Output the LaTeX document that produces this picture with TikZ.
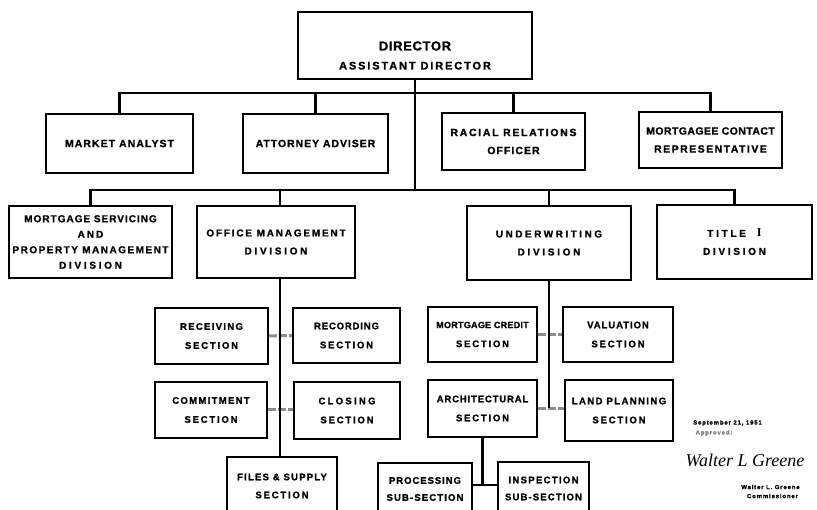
\documentclass[tikz,border=0pt]{standalone}
\usepackage{fontspec}
\setmainfont{Liberation Sans}[BoldFeatures={FakeBold=1.2}]
\newfontfamily\sigfont{Liberation Serif}
\usetikzlibrary{shadows}
\newcommand{\myls}[1]{\addfontfeature{LetterSpace=#1}}
\pgfdeclarelayer{back}
\pgfdeclarelayer{bg}
\pgfsetlayers{back,bg,main}
\tikzset{
  box/.style={draw, fill=white, line width=1.8pt, align=center, inner sep=0pt,
    drop shadow={shadow xshift=1.3pt, shadow yshift=-1.3pt, opacity=1, fill=black}},
  toprow/.style={box, font=\bfseries\fontsize{10.5}{18}\selectfont\myls{10}},
  divrow/.style={box, font=\bfseries\fontsize{10}{18}\selectfont\myls{22}},
  secbox/.style={box, font=\bfseries\fontsize{9.5}{19}\selectfont\myls{12}},
  conn/.style={line width=2.3pt},
  link/.style={line width=3pt, black!45, dash pattern=on 8pt off 2pt},
  smalltxt/.style={font=\bfseries\fontsize{6}{7}\selectfont\myls{14}, inner sep=0pt},
}
\begin{document}
\begin{tikzpicture}[x=1pt, y=-1pt]
\useasboundingbox (0,0) rectangle (817,510);
\begin{pgfonlayer}{back}
\fill[white] (0,0) rectangle (817,510);
\end{pgfonlayer}

% Director
\node[box, minimum width=234pt, minimum height=67pt] (dir) at (415,45.5) {};
\node[font=\bfseries\fontsize{11}{19}\selectfont, align=center, inner sep=0pt] (dirT) at (415,55.5)
  {{\fontsize{13}{19}\selectfont\myls{5}DIRECTOR}\\{\myls{17}ASSISTANT DIRECTOR}};

% Staff row
\node[toprow, minimum width=147pt, minimum height=59pt] (ma) at (119.5,143.5) {MARKET ANALYST};
\node[toprow, minimum width=145pt, minimum height=59pt] (aa) at (315.5,143.5) {{\myls{9}ATTORNEY ADVISER}};
\node[toprow, minimum width=143pt, minimum height=57pt] (rr) at (513.5,141.5) {{\myls{16}RACIAL RELATIONS}\\OFFICER};
\node[toprow, minimum width=143pt, minimum height=56pt] (mc) at (710.5,140) {{\myls{4}MORTGAGEE CONTACT}\\{\myls{14}REPRESENTATIVE}};

% Divisions
\node[box, font=\bfseries\fontsize{10}{15.5}\selectfont, minimum width=163pt, minimum height=72pt] (ms) at (90.5,242)
  {{\myls{10}MORTGAGE SERVICING}\\{\myls{20}AND}\\{\myls{15}PROPERTY MANAGEMENT}\\{\myls{27}DIVISION}};
\node[divrow, minimum width=158pt, minimum height=72pt] (om) at (276,242) {{\myls{18}OFFICE MANAGEMENT}\\{\myls{27}DIVISION}};
\node[divrow, minimum width=164pt, minimum height=74pt] (uw) at (549,243) {{\myls{25}UNDERWRITING}\\{\myls{27}DIVISION}};
\node[divrow, minimum width=155pt, minimum height=74pt] (t1) at (734.5,242) {{\myls{27}TITLE\ \ {\sigfont\bfseries\fontsize{12}{18}\selectfont I}}\\{\myls{27}DIVISION}};

% Office management sections
\node[secbox, minimum width=113pt, minimum height=56pt] (rec) at (211.5,336) {{\myls{14}RECEIVING}\\{\myls{19}SECTION}};
\node[secbox, minimum width=107pt, minimum height=55pt] (rcd) at (346.5,335.5) {{\myls{9}RECORDING}\\{\myls{19}SECTION}};
\node[secbox, minimum width=112pt, minimum height=56pt] (com) at (211,410) {{\myls{14}COMMITMENT}\\{\myls{19}SECTION}};
\node[secbox, minimum width=106pt, minimum height=57pt] (clo) at (347,410.5) {{\myls{24}CLOSING}\\{\myls{19}SECTION}};
\node[secbox, minimum width=110pt, minimum height=58pt, font=\bfseries\fontsize{9.5}{18}\selectfont] (fs) at (282,486) {{\myls{13}FILES \& SUPPLY}\\{\myls{19}SECTION}};

% Underwriting sections
\node[secbox, minimum width=109pt, minimum height=55pt] (mcs) at (482.5,334.5) {{\fontsize{9}{19}\selectfont\myls{3}MORTGAGE CREDIT}\\{\myls{19}SECTION}};
\node[secbox, minimum width=110pt, minimum height=55pt] (val) at (618,334.5) {{\myls{10}VALUATION}\\{\myls{19}SECTION}};
\node[secbox, minimum width=109pt, minimum height=57pt] (ar) at (482.5,408.5) {{\myls{9}ARCHITECTURAL}\\{\myls{19}SECTION}};
\node[secbox, minimum width=108pt, minimum height=61pt] (lp) at (619,410.5) {{\myls{15}LAND PLANNING}\\{\myls{19}SECTION}};
\node[secbox, minimum width=94pt, minimum height=52pt, font=\bfseries\fontsize{9.5}{17}\selectfont] (pr) at (425,489) {{\myls{10}PROCESSING}\\{\myls{12}SUB-SECTION}};
\node[secbox, minimum width=91pt, minimum height=53pt, font=\bfseries\fontsize{9.5}{17}\selectfont] (in) at (543.5,488.5) {{\myls{14}INSPECTION}\\{\myls{12}SUB-SECTION}};

% Signature block
\node[smalltxt] (date) at (727.5,423) {September 21, 1951};
\node[smalltxt, text=gray] (appr) at (714,433) {Approved:};
\node[font=\sigfont\itshape\fontsize{18}{18}\selectfont, inner sep=0pt] (sig) at (745,460) {Walter L Greene};
\node[smalltxt] (wlg) at (770.5,487) {Walter L. Greene};
\node[smalltxt] (comm) at (772.5,496) {Commissioner};

% Connectors
\begin{pgfonlayer}{bg}
\coordinate (b1) at (415,93);
\coordinate (b2) at (415,190);
\coordinate (omx) at (280,190);
\coordinate (sj) at (482.5,485);
\draw[conn] (dir.south) -- (b2);
\draw[conn] (ma.north) |- (b1) -| (mc.north);
\draw[conn] (aa.north) -- (aa.north |- b1);
\draw[conn] (rr.north) -- (rr.north |- b1);
\draw[conn] (ms.north) |- (b2) -| (t1.north);
\draw[conn] (omx) -- (omx |- om.north);
\draw[conn] (uw.north) -- (uw.north |- b2);
\draw[link] (rec.east) -- (rcd.west);
\draw[link] (com.east) -- (com.east -| clo.west);
\draw[link] (mcs.east) -- (val.west);
\draw[link] (ar.east) -- (ar.east -| lp.west);
\draw[conn] (om.south -| omx) -- (fs.north -| omx);
\draw[conn] (uw.south) -- (uw.south |- ar.east);
\draw[conn] (ar.south) -- (sj);
\draw[conn] (pr.east |- sj) -- (in.west |- sj);
\end{pgfonlayer}
\end{tikzpicture}
\end{document}
